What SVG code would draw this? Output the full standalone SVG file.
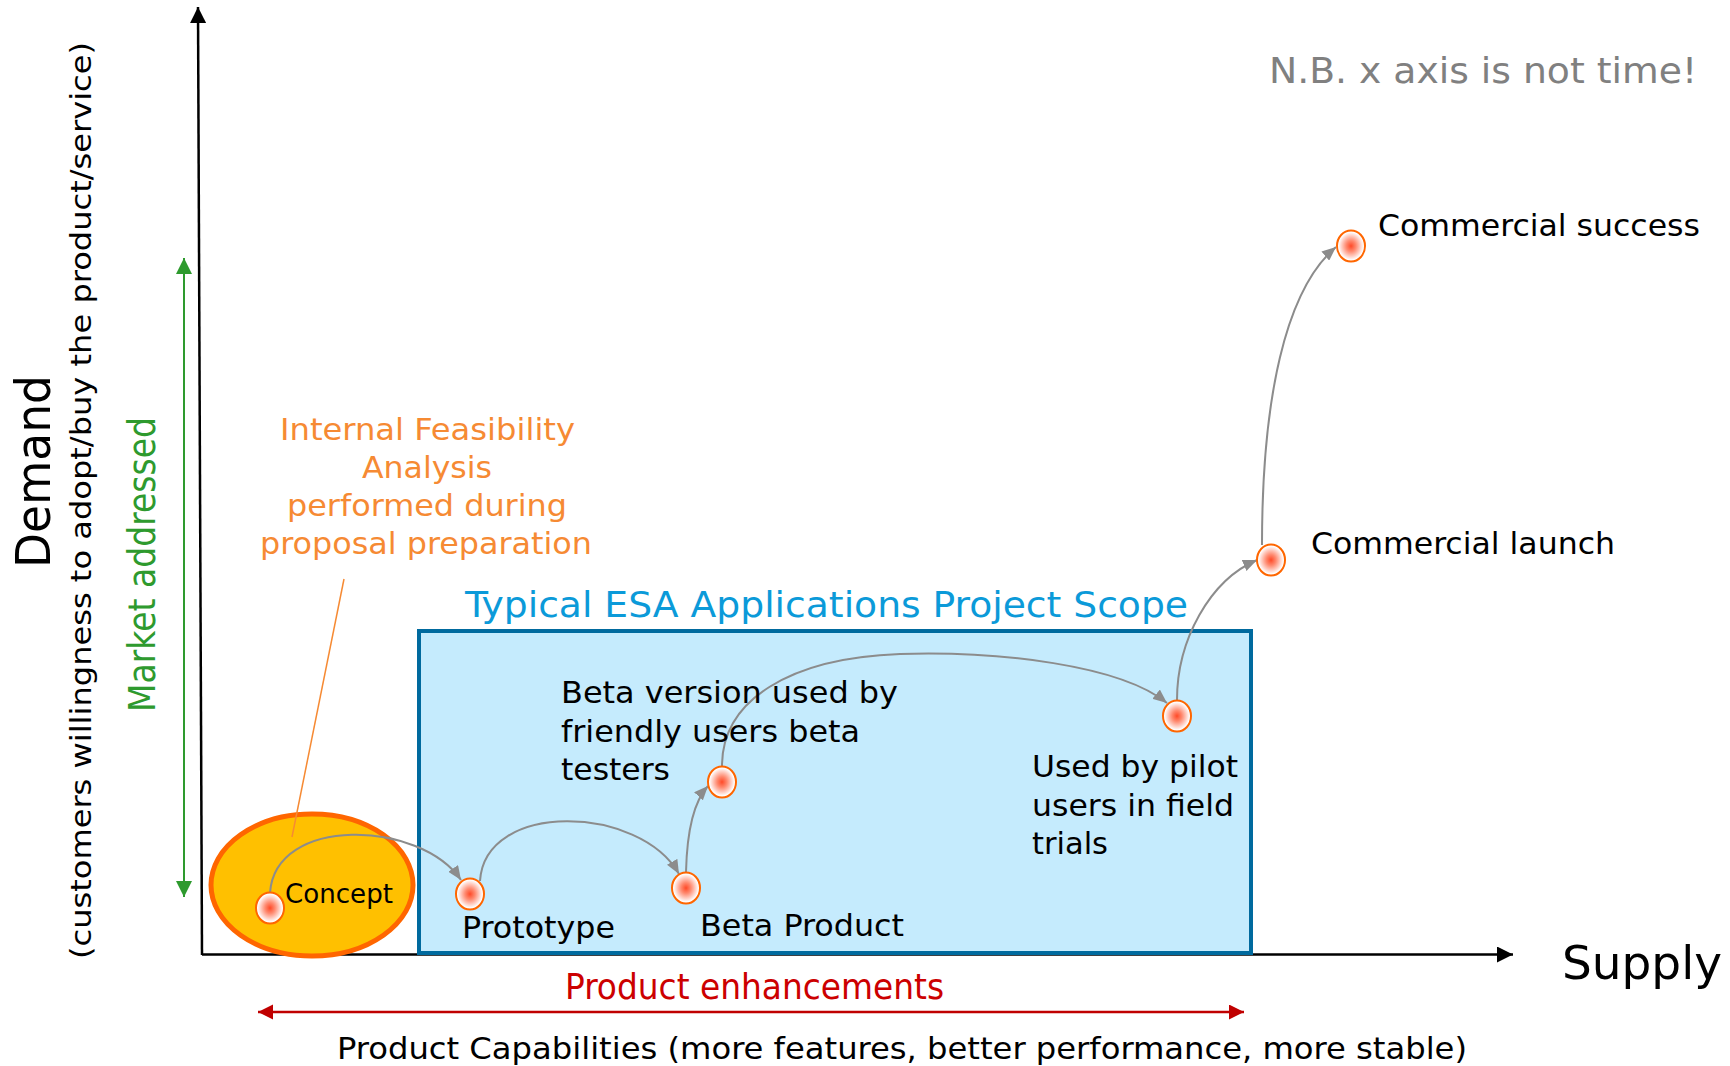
<svg xmlns="http://www.w3.org/2000/svg" width="1730" height="1066" viewBox="0 0 1730 1066">
<style>
  text { font-family: "DejaVu Sans Condensed", "DejaVu Sans", sans-serif; fill: #000; }
  .lab { font-size: 30px; }
  .orange { fill: #F68A33; font-size: 30px; }
  .conn { fill: none; stroke: #8C8C8C; stroke-width: 2; marker-end: url(#ah-grey); }
  .node { fill: url(#nodeGrad); stroke: #FF6600; stroke-width: 2; }
</style>
<defs>
  <radialGradient id="nodeGrad" cx="50%" cy="50%" r="50%">
    <stop offset="0" stop-color="#FF4A28"/>
    <stop offset="0.35" stop-color="#FF8A70"/>
    <stop offset="0.9" stop-color="#FFFFFF"/>
  </radialGradient>
  <marker id="ah-grey" markerUnits="userSpaceOnUse" markerWidth="16" markerHeight="12" refX="14" refY="6" orient="auto">
    <path d="M0,0 L14,6 L0,12 z" fill="#8C8C8C"/>
  </marker>
  <marker id="ah-black" markerUnits="userSpaceOnUse" markerWidth="18" markerHeight="16" refX="16" refY="8" orient="auto">
    <path d="M0,0 L16,8 L0,16 z" fill="#000"/>
  </marker>
  <marker id="ah-green" markerUnits="userSpaceOnUse" markerWidth="18" markerHeight="16" refX="16" refY="8" orient="auto-start-reverse">
    <path d="M0,0 L16,8 L0,16 z" fill="#2E9A2E"/>
  </marker>
  <marker id="ah-red" markerUnits="userSpaceOnUse" markerWidth="18" markerHeight="16" refX="15" refY="7.5" orient="auto-start-reverse">
    <path d="M0,0 L15,7.5 L0,15 z" fill="#C00000"/>
  </marker>
</defs>
<rect x="0" y="0" width="1730" height="1066" fill="#FFFFFF"/>

<g id="axes">
  <line x1="202" y1="955" x2="198" y2="7" stroke="#000" stroke-width="2.5" marker-end="url(#ah-black)"/>
  <line x1="202" y1="954.5" x2="1513" y2="954.5" stroke="#000" stroke-width="2.5" marker-end="url(#ah-black)"/>
  <line x1="184" y1="258" x2="184" y2="897" stroke="#2E9A2E" stroke-width="2" marker-start="url(#ah-green)" marker-end="url(#ah-green)"/>
  <line x1="258" y1="1012" x2="1244" y2="1012" stroke="#C00000" stroke-width="2.5" marker-start="url(#ah-red)" marker-end="url(#ah-red)"/>
  <text transform="translate(50,471.5) rotate(-90)" text-anchor="middle" font-size="48" textLength="193" lengthAdjust="spacingAndGlyphs">Demand</text>
  <text transform="translate(91,500.5) rotate(-90)" text-anchor="middle" font-size="29" textLength="917" lengthAdjust="spacingAndGlyphs">(customers willingness to adopt/buy the product/service)</text>
  <text transform="translate(155,564.5) rotate(-90)" text-anchor="middle" font-size="37" fill="#2E9A2E" style="fill:#2E9A2E" textLength="295" lengthAdjust="spacingAndGlyphs">Market addressed</text>
  <text x="1562" y="979" font-size="47" textLength="160" lengthAdjust="spacingAndGlyphs">Supply</text>
  <text x="565" y="999" font-size="36" style="fill:#CC0000" textLength="379" lengthAdjust="spacingAndGlyphs">Product enhancements</text>
  <text x="337" y="1059" font-size="31" textLength="1130" lengthAdjust="spacingAndGlyphs">Product Capabilities (more features, better performance, more stable)</text>
  <text x="1269" y="83" font-size="36" style="fill:#808080" textLength="428" lengthAdjust="spacingAndGlyphs">N.B. x axis is not time!</text>
</g>

<g id="concept-area">
  <ellipse cx="312" cy="885" rx="101" ry="71" fill="#FFC000" stroke="#FF6600" stroke-width="5"/>
</g>

<g id="scope-box">
  <rect x="419" y="631" width="832" height="322" fill="#C5EBFD" stroke="#006A9E" stroke-width="4"/>
  <text x="465" y="617" font-size="36" style="fill:#0B9AD9" textLength="723" lengthAdjust="spacingAndGlyphs">Typical ESA Applications Project Scope</text>
</g>

<g id="feasibility-callout">
  <line x1="344" y1="579" x2="292" y2="837" stroke="#F68A33" stroke-width="1.5"/>
  <text class="orange" x="427.5" y="440" text-anchor="middle" textLength="295" lengthAdjust="spacingAndGlyphs">Internal Feasibility</text>
  <text class="orange" x="427" y="478" text-anchor="middle" textLength="130" lengthAdjust="spacingAndGlyphs">Analysis</text>
  <text class="orange" x="427" y="516" text-anchor="middle" textLength="280" lengthAdjust="spacingAndGlyphs">performed during</text>
  <text class="orange" x="426" y="554" text-anchor="middle" textLength="332" lengthAdjust="spacingAndGlyphs">proposal preparation</text>
</g>

<g id="connectors">
  <path class="conn" d="M270,893 C275,815 420,820 461,880"/>
  <path class="conn" d="M480,881 C485,800 640,805 679,874"/>
  <path class="conn" d="M686,872 C687,830 695,800 708,786"/>
  <path class="conn" d="M722,766 C722,700 790,658 900,654 C1000,651 1120,665 1167,703"/>
  <path class="conn" d="M1177,700 C1177,640 1210,580 1257,560"/>
  <path class="conn" d="M1262,545 C1262,400 1285,290 1336,247"/>
</g>

<g id="node-concept">
  <ellipse class="node" cx="270" cy="908" rx="14" ry="15.5"/>
  <text x="285" y="903" font-size="26" textLength="108" lengthAdjust="spacingAndGlyphs">Concept</text>
</g>
<g id="node-prototype">
  <ellipse class="node" cx="470" cy="894" rx="14" ry="15.5"/>
  <text class="lab" x="462" y="938" textLength="153" lengthAdjust="spacingAndGlyphs">Prototype</text>
</g>
<g id="node-beta-product">
  <ellipse class="node" cx="686" cy="888" rx="14" ry="15.5"/>
  <text class="lab" x="700" y="936" textLength="204" lengthAdjust="spacingAndGlyphs">Beta Product</text>
</g>
<g id="node-beta-version">
  <ellipse class="node" cx="722" cy="782" rx="14" ry="15.5"/>
  <text class="lab" x="561" y="703" textLength="337" lengthAdjust="spacingAndGlyphs">Beta version used by</text>
  <text class="lab" x="561" y="742" textLength="299" lengthAdjust="spacingAndGlyphs">friendly users beta</text>
  <text class="lab" x="561" y="780" textLength="109" lengthAdjust="spacingAndGlyphs">testers</text>
</g>
<g id="node-pilot">
  <ellipse class="node" cx="1177" cy="716" rx="14" ry="15.5"/>
  <text class="lab" x="1032" y="777" textLength="206" lengthAdjust="spacingAndGlyphs">Used by pilot</text>
  <text class="lab" x="1032" y="816" textLength="202" lengthAdjust="spacingAndGlyphs">users in field</text>
  <text class="lab" x="1032" y="854" textLength="76" lengthAdjust="spacingAndGlyphs">trials</text>
</g>
<g id="node-launch">
  <ellipse class="node" cx="1271" cy="560" rx="14" ry="15.5"/>
  <text x="1311" y="554" font-size="31" textLength="304" lengthAdjust="spacingAndGlyphs">Commercial launch</text>
</g>
<g id="node-success">
  <ellipse class="node" cx="1351" cy="246" rx="14" ry="15.5"/>
  <text x="1378" y="236" font-size="31" textLength="322" lengthAdjust="spacingAndGlyphs">Commercial success</text>
</g>
</svg>
